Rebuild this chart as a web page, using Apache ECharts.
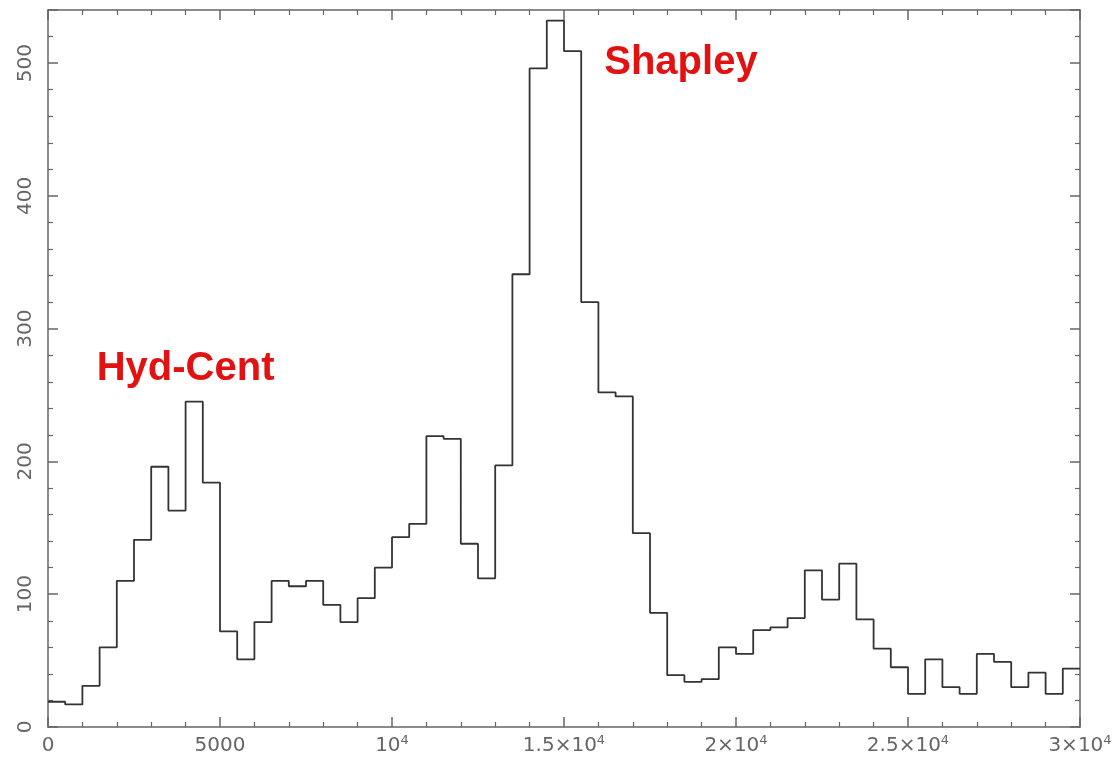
<!DOCTYPE html>
<html>
<head>
<meta charset="utf-8">
<script src="https://cdn.jsdelivr.net/npm/echarts@6/dist/echarts.min.js"></script>
<style>
html,body{margin:0;padding:0;background:#fff;}
#chart{width:1117px;height:761px;}
</style>
</head>
<body>
<div id="chart"></div>
<script>
// Histogram: bin starts (velocity) and counts
const binStarts = [0,500,1000,1500,2000,2500,3000,3500,4000,4500,5000,5500,6000,6500,7000,7500,8000,8500,9000,9500,
  10000,10500,11000,11500,12000,12500,13000,13500,14000,14500,15000,15500,16000,16500,17000,17500,18000,18500,19000,19500,
  20000,20500,21000,21500,22000,22500,23000,23500,24000,24500,25000,25500,26000,26500,27000,27500,28000,28500,29000,29500];
const binEnd = 30000;
const counts = [19,17,31,60,110,141,196,163,245,184,72,51,79,110,106,110,92,79,97,120,
  143,153,219,217,138,112,197,341,496,532,509,320,252,249,146,86,39,34,36,60,
  55,73,75,82,118,96,123,81,59,45,25,51,30,25,55,49,30,41,25,44];
const xTicks = [0,5000,10000,15000,20000,25000,30000];
const yTicks = [0,100,200,300,400,500];
const annotations = [
  {name:'Shapley', x:18400, y:500},
  {name:'Hyd-Cent', x:4000, y:270}
];

const stepData = binStarts.map((s,i)=>[s,counts[i]]);
stepData.push([binEnd, counts[counts.length-1]]);

function xFmt(v){
  if (v === 0) return '0';
  if (v === 5000) return '5000';
  const m = v/10000;
  if (m === 1) return '10{sup|4}';
  return m + '×10{sup|4}';
}

const axisColor = '#666';
const labelFont = {fontFamily:'DejaVu Sans', fontSize:20, color:'#666'};

const chart = echarts.init(document.getElementById('chart'));
chart.setOption({
  animation:false,
  backgroundColor:'#fff',
  grid:{left:48, right:37, top:10, bottom:34},
  xAxis:[{
    type:'value', min:0, max:30000, interval:5000, position:'bottom',
    axisLine:{show:true, onZero:false, lineStyle:{color:axisColor, width:1.5}},
    axisTick:{show:true, inside:true, length:10, lineStyle:{color:axisColor, width:1.5}},
    minorTick:{show:true, splitNumber:5, length:5, lineStyle:{color:axisColor, width:1.2}},
    splitLine:{show:false},
    axisLabel:Object.assign({margin:7, formatter:xFmt, lineHeight:24,
      rich:{sup:{fontFamily:'DejaVu Sans', fontSize:13, color:'#666', verticalAlign:'top', lineHeight:24, padding:[0,0,10,0]}}}, labelFont)
  },{
    type:'value', min:0, max:30000, interval:5000, position:'top',
    axisLine:{show:true, onZero:false, lineStyle:{color:axisColor, width:1.5}},
    axisTick:{show:true, inside:true, length:10, lineStyle:{color:axisColor, width:1.5}},
    minorTick:{show:true, splitNumber:5, length:5, lineStyle:{color:axisColor, width:1.2}},
    splitLine:{show:false}, axisLabel:{show:false}
  }],
  yAxis:[{
    type:'value', min:0, max:540, interval:100, position:'left',
    axisLine:{show:true, onZero:false, lineStyle:{color:axisColor, width:1.5}},
    axisTick:{show:true, inside:true, length:10, lineStyle:{color:axisColor, width:1.5}},
    minorTick:{show:true, splitNumber:5, length:5, lineStyle:{color:axisColor, width:1.2}},
    splitLine:{show:false},
    axisLabel:Object.assign({rotate:90, margin:12, showMaxLabel:false,
      formatter:v=> yTicks.indexOf(v) >= 0 ? String(v) : ''}, labelFont)
  },{
    type:'value', min:0, max:540, interval:100, position:'right',
    axisLine:{show:true, onZero:false, lineStyle:{color:axisColor, width:1.5}},
    axisTick:{show:true, inside:true, length:10, lineStyle:{color:axisColor, width:1.5}},
    minorTick:{show:true, splitNumber:5, length:5, lineStyle:{color:axisColor, width:1.2}},
    splitLine:{show:false}, axisLabel:{show:false}
  }],
  series:[{
    type:'line', step:'end', xAxisIndex:0, yAxisIndex:0,
    data:stepData, symbol:'none', silent:true,
    lineStyle:{color:'#333', width:1.8},
    markPoint:{
      symbol:'circle', symbolSize:0, silent:true,
      label:{show:true, position:'inside', formatter:'{b}', color:'#e31212',
        fontFamily:'Liberation Sans', fontWeight:'bold', fontSize:40},
      data:annotations.map(a=>({name:a.name, coord:[a.x,a.y]}))
    }
  }]
});
</script>
</body>
</html>
